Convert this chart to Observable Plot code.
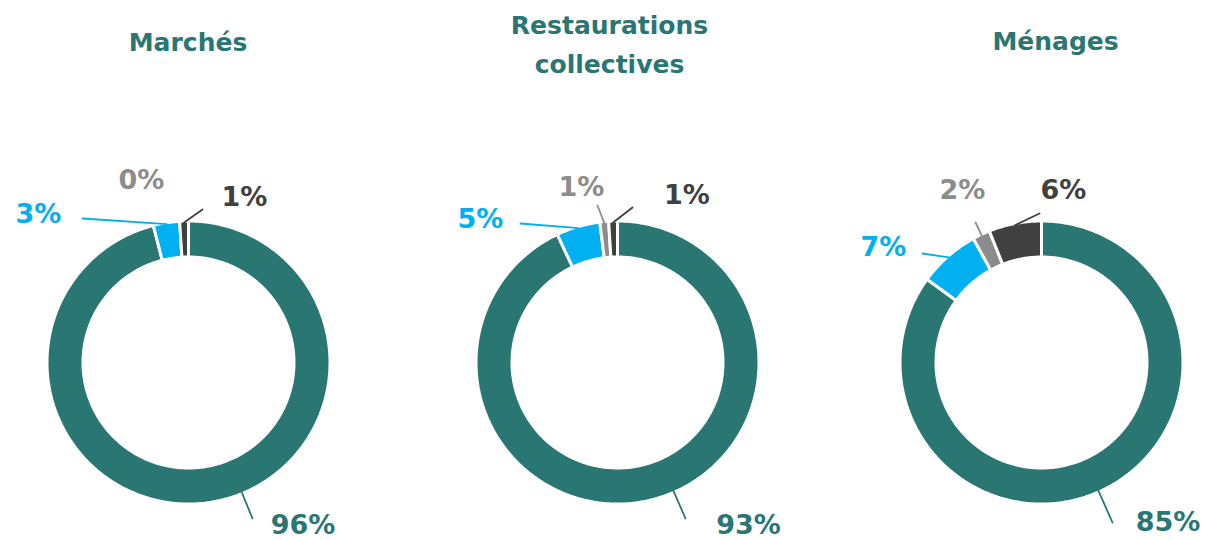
<!DOCTYPE html>
<html>
<head>
<meta charset="utf-8">
<script src="https://cdn.jsdelivr.net/npm/d3@7"></script>
<script src="https://cdn.jsdelivr.net/npm/@observablehq/plot@0.6"></script>
<style>
  html, body { margin: 0; padding: 0; background: #fff; }
</style>
</head>
<body>
<div id="chart"></div>
<script>
// ---------- DATA ----------
const charts = ["Marchés", "Restaurations collectives", "Ménages"];
const titles = ["Marchés", "Restaurations\ncollectives", "Ménages"];
const segments = ["Catégorie 1", "Catégorie 2", "Catégorie 3", "Catégorie 4"];
const marches = [96, 3, 0, 1];
const restaurations = [93, 5, 1, 1];
const menages = [85, 7, 2, 6];
const values = [marches, restaurations, menages];

// ---------- STYLE / LAYOUT ----------
const colors = ["#297673", "#00b0f0", "#8c8c8c", "#404040"];
const TEAL = "#297673";
const W = 1208, H = 540;
const CX = [188, 617, 1041], CY = 362;
const R_OUT = 141.5, R_IN = 105.5;
const titleX = [187.5, 609, 1055], titleY = [50, 72, 49];
// label baseline offsets from donut centre [dx, dy]
const labelOffset = [
  [[114.5, 171], [-150, -140], [-47, -174], [56, -157]],
  [[131, 171], [-137, -135], [-36, -167], [69.5, -159]],
  [[126.5, 168], [-158, -107], [-79, -164], [22, -164]]
];
// leader line start (label side) offsets from donut centre
const leaderOffset = [
  [[64, 156], [-106, -144], null, [14, -153]],
  [[68, 156], [-97, -139], [-20, -157], [15, -155]],
  [[71, 160], [-119, -109], [-66, -140], [-2, -149]]
];

// ---------- GEOMETRY FROM VALUES ----------
const slicePts = [];
const leaders = [];
const labels = [];
values.forEach((vals, i) => {
  const total = d3.sum(vals);
  let cum = 0;
  vals.forEach((v, j) => {
    const a0 = cum / total * 2 * Math.PI;
    cum += v;
    const a1 = cum / total * 2 * Math.PI;
    const key = `${i}-${j}`;
    if (v > 0) {
      const n = Math.max(2, Math.ceil((a1 - a0) / (Math.PI / 180)));
      const pts = [];
      for (let k = 0; k <= n; ++k) pts.push([R_OUT, a0 + (a1 - a0) * k / n]);
      for (let k = n; k >= 0; --k) pts.push([R_IN, a0 + (a1 - a0) * k / n]);
      pts.push(pts[0]);
      pts.forEach(([r, a]) => slicePts.push({key, seg: segments[j], x: CX[i] + r * Math.sin(a), y: CY - r * Math.cos(a)}));
      const lo = leaderOffset[i][j];
      if (lo) {
        let ad = Math.atan2(lo[0], -lo[1]);
        if (ad < 0) ad += 2 * Math.PI;
        const am = v / total < 0.5 ? (a0 + a1) / 2 : ad;
        const re = R_OUT - 1.5;
        leaders.push({key, seg: segments[j], x: CX[i] + lo[0], y: CY + lo[1]});
        leaders.push({key, seg: segments[j], x: CX[i] + re * Math.sin(am), y: CY - re * Math.cos(am)});
      }
    }
    const lp = labelOffset[i][j];
    labels.push({chart: charts[i], seg: segments[j], text: `${v}%`, x: CX[i] + lp[0], y: CY + lp[1]});
  });
});
const titleRows = titles.map((t, i) => ({chart: charts[i], text: t, x: titleX[i], y: titleY[i]}));

// ---------- PLOT ----------
const plot = Plot.plot({
  width: W,
  height: H,
  margin: 0,
  x: {domain: [0, W], range: [0, W], axis: null},
  y: {domain: [0, H], range: [0, H], axis: null},
  color: {domain: segments, range: colors},
  style: {fontFamily: "DejaVu Sans", background: "white"},
  marks: [
    Plot.line(slicePts, {x: "x", y: "y", z: "key", fill: "seg", stroke: "white", strokeWidth: 3, strokeLinejoin: "miter", curve: "linear"}),
    Plot.line(leaders, {x: "x", y: "y", z: "key", stroke: "seg", strokeWidth: 1.8, curve: "linear"}),
    Plot.text(labels, {x: "x", y: "y", text: "text", fill: "seg", fontSize: 27, fontWeight: "bold", textAnchor: "middle", lineAnchor: "bottom"}),
    Plot.text(titleRows, {x: "x", y: "y", text: "text", fill: TEAL, fontSize: 25, fontWeight: "bold", textAnchor: "middle", lineAnchor: "bottom", lineHeight: 1.56})
  ]
});
document.getElementById("chart").appendChild(plot);
</script>
</body>
</html>
